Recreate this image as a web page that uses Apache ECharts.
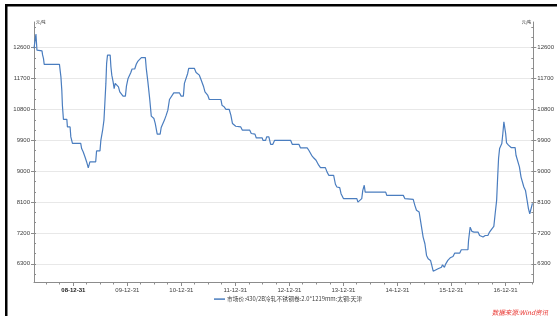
<!DOCTYPE html>
<html>
<head>
<meta charset="utf-8">
<script src="https://cdn.jsdelivr.net/npm/echarts@6/dist/echarts.min.js"></script>
<style>
  html, body { margin: 0; padding: 0; background: #fff; }
  #chart { width: 557px; height: 316px; }
</style>
</head>
<body>
<div id="chart"></div>
<script>
const seriesName = '市场价:430/2B冷轧不锈钢卷:2.0*1219mm:太钢:天津';
const unitName = '元/吨';
const sourceText = '数据来源:Wind资讯';

// 价格走势 (读图估算)
const priceDates = [
  '2008-04-09','2008-04-22','2008-04-29','2008-06-02','2008-06-06','2008-06-12','2008-06-17','2008-09-28',
  '2008-10-08','2008-10-14','2008-10-18','2008-10-25','2008-11-17','2008-11-21','2008-12-09','2008-12-14',
  '2008-12-25','2009-02-19','2009-02-25','2009-03-08','2009-03-20','2009-03-31','2009-04-11','2009-04-22',
  '2009-05-31','2009-06-06','2009-06-29','2009-07-05','2009-07-17','2009-07-26','2009-08-01','2009-08-08',
  '2009-08-13','2009-08-19','2009-08-30','2009-09-06','2009-09-11','2009-09-17','2009-09-26','2009-10-03',
  '2009-10-10','2009-10-23','2009-11-01','2009-11-10','2009-11-22','2009-12-02','2009-12-18','2009-12-25',
  '2010-01-05','2010-01-23','2010-02-01','2010-02-19','2010-03-02','2010-03-13','2010-04-05','2010-05-02',
  '2010-05-08','2010-05-19','2010-05-31','2010-06-11','2010-06-29','2010-07-08','2010-07-21','2010-08-10',
  '2010-08-17','2010-08-28','2010-09-08','2010-09-20','2010-10-01','2010-10-12','2010-10-23','2010-11-10',
  '2010-12-18','2010-12-30','2011-01-14','2011-01-21','2011-02-01','2011-02-12','2011-02-19','2011-03-29',
  '2011-04-10','2011-04-20','2011-05-02','2011-05-13','2011-05-31','2011-06-09','2011-06-27','2011-07-08',
  '2011-09-25','2011-10-02','2011-10-17','2011-10-29','2011-11-20','2011-12-01','2011-12-12','2012-01-03',
  '2012-02-06','2012-02-17','2012-04-07','2012-04-17','2012-05-12','2012-05-21','2012-06-30','2012-07-05',
  '2012-07-23','2012-07-30','2012-08-14','2012-08-26','2012-09-10','2012-09-22','2013-01-08','2013-01-19',
  '2013-03-05','2013-03-16','2013-04-30','2013-05-11','2013-05-30','2013-06-14','2013-06-29','2013-07-17',
  '2013-07-29','2013-08-31','2013-09-11','2013-09-23','2013-10-26','2013-11-07','2013-11-17','2013-12-06',
  '2013-12-15','2014-01-01','2014-04-01','2014-04-08','2014-04-19','2014-05-04','2014-05-11','2014-05-21',
  '2014-05-27','2014-10-13','2014-10-20','2015-02-09','2015-02-20','2015-04-17','2015-04-28','2015-05-09',
  '2015-05-27','2015-06-05','2015-06-23','2015-07-05','2015-07-16','2015-07-27','2015-08-12','2015-08-21',
  '2015-08-30','2015-09-10','2015-10-02','2015-10-25','2015-11-01','2015-11-14','2015-11-23','2015-12-07',
  '2015-12-23','2016-01-11','2016-01-22','2016-02-25','2016-03-07','2016-04-21','2016-04-25','2016-05-06',
  '2016-05-18','2016-06-01','2016-06-28','2016-07-09','2016-08-01','2016-08-16','2016-09-03','2016-09-14',
  '2016-09-30','2016-10-13','2016-10-22','2016-11-01','2016-11-07','2016-11-14','2016-11-21','2016-11-27',
  '2016-12-06','2016-12-13','2016-12-20','2016-12-25','2017-01-01','2017-01-07','2017-01-20','2017-02-07',
  '2017-03-06','2017-03-12','2017-03-24','2017-04-04','2017-04-15','2017-04-27','2017-05-04','2017-05-15',
  '2017-05-26','2017-06-04','2017-06-13','2017-06-22','2017-07-01'
];
const priceValues = [
  12580,13000,12530,12510,12390,12290,12115,12115,
  11750,11365,10925,10510,10510,10290,10290,10000,
  9810,9810,9660,9560,9415,9270,9095,9270,
  9270,9590,9590,9900,10195,10490,10975,11560,
  12145,12385,12415,12385,12045,11800,11605,11410,
  11560,11560,11460,11315,11270,11190,11190,11480,
  11705,11870,11980,11980,12125,12210,12310,12310,
  12000,11605,11120,10605,10535,10390,10080,10080,
  10275,10300,10490,10635,10780,11090,11090,11285,
  11285,11190,11190,11560,11590,11850,12000,12000,
  11880,11880,11800,11675,11460,11315,11220,11090,
  11090,10925,10875,10800,10800,10635,10390,10310,
  10290,10195,10195,10100,10080,9970,9970,9900,
  9900,10000,10000,9785,9785,9900,9900,9785,
  9785,9680,9680,9610,9465,9385,9320,9175,
  9105,9105,8980,8880,8880,8620,8540,8520,
  8345,8200,8200,8100,8150,8200,8440,8590,
  8390,8390,8295,8295,8200,8180,8005,7860,
  7810,7565,7080,6885,6545,6450,6400,6250,
  6085,6125,6155,6200,6270,6200,6300,6400,
  6475,6515,6610,6610,6710,6710,6980,7370,
  7245,7225,7225,7125,7080,7125,7125,7225,
  7320,7390,7760,8150,8735,9370,9660,9630,
  9805,10100,10440,10390,10100,9825,9760,9690,
  9690,9465,9465,9125,8830,8800,8540,8440,
  8150,7910,7760,7715,8060
];

const xMin = '2008-04-09';
const xMax = '2017-07-07';
const yearTickDates = ['2008-12-31','2009-12-31','2010-12-31','2011-12-31','2012-12-31','2013-12-31','2014-12-31','2015-12-31','2016-12-31'];
const yearTickLabels = ['08-12-31','09-12-31','10-12-31','11-12-31','12-12-31','13-12-31','14-12-31','15-12-31','16-12-31'];
const yTickValues = [6300, 7200, 8100, 9000, 9900, 10800, 11700, 12600];
const yMin = 5770;
const yMax = 13350;

const toTime = s => echarts.time.parse(s).getTime();
const yearTickTimes = yearTickDates.map(toTime);
const xMinTime = toTime(xMin);
const xMaxTime = toTime(xMax);

// 季度小刻度
const quarterTimes = [];
for (let y = 2008; y <= 2017; y++) {
  ['03-31', '06-30', '09-30', '12-31'].forEach(md => {
    const t = toTime(y + '-' + md);
    if (t > xMinTime && t < xMaxTime) quarterTimes.push(t);
  });
}
// 300 一格的小刻度
const yMinorValues = [];
for (let v = 6000; v <= 13200; v += 300) yMinorValues.push(v);

const axisColor = '#8c8c8c';
const labelColor = '#404040';
const lineColor = '#4a7dbf';
const baseFont = 'Liberation Sans';

const chart = echarts.init(document.getElementById('chart'));

const hiddenAxisParts = {
  axisLine: { show: false },
  axisLabel: { show: false },
  splitLine: { show: false },
};

const yLabel = { customValues: yTickValues, margin: 4, fontSize: 6, color: labelColor, fontFamily: baseFont, formatter: v => String(v) };

const option = {
  animation: false,
  backgroundColor: '#fff',
  grid: { left: 34, right: 22, top: 22, bottom: 34 },
  legend: {
    left: 209,
    bottom: 9,
    itemWidth: 11,
    itemHeight: 1.5,
    icon: 'rect',
    textStyle: { fontSize: 5.8, color: '#404040', fontFamily: 'Noto Sans CJK SC', padding: [0, 0, 0, -3] },
    data: [seriesName],
  },
  xAxis: [
    {
      type: 'value',
      min: xMinTime,
      max: xMaxTime,
      axisLine: { lineStyle: { color: axisColor, width: 1 } },
      axisTick: { length: 4, lineStyle: { color: axisColor }, customValues: yearTickTimes },
      axisLabel: {
        customValues: yearTickTimes,
        margin: 5,
        fontSize: 6,
        color: labelColor,
        fontFamily: baseFont,
        formatter: (val) => {
          let i = -1;
          yearTickTimes.forEach((t, k) => { if (Math.abs(t - val) < 1000) i = k; });
          const txt = i >= 0 ? yearTickLabels[i] : '';
          return i === 0 ? '{b|' + txt + '}' : txt;
        },
        rich: { b: { fontWeight: 'bold', fontSize: 6, color: '#202020', fontFamily: baseFont } },
      },
      splitLine: { show: false },
    },
    {
      type: 'value',
      min: xMinTime,
      max: xMaxTime,
      position: 'bottom',
      ...hiddenAxisParts,
      axisTick: { length: 2.5, lineStyle: { color: axisColor }, customValues: quarterTimes },
    },
  ],
  yAxis: [
    {
      type: 'value',
      position: 'left',
      min: yMin,
      max: yMax,
      name: unitName,
      nameLocation: 'end',
      nameGap: 0,
      nameTextStyle: { fontSize: 4, color: '#202020', align: 'left', verticalAlign: 'middle', padding: [0, 0, 0, 2], fontFamily: 'Noto Sans CJK SC' },
      axisLine: { show: true, lineStyle: { color: axisColor } },
      axisTick: { length: 3, lineStyle: { color: axisColor }, customValues: yTickValues },
      axisLabel: yLabel,
      splitLine: { show: true, lineStyle: { color: '#e8e8e8', width: 1 } },
    },
    {
      type: 'value',
      position: 'left',
      min: yMin,
      max: yMax,
      ...hiddenAxisParts,
      axisTick: { inside: true, length: 2, lineStyle: { color: axisColor }, customValues: yMinorValues },
    },
    {
      type: 'value',
      position: 'right',
      min: yMin,
      max: yMax,
      name: unitName,
      nameLocation: 'end',
      nameGap: 0,
      nameTextStyle: { fontSize: 4, color: '#202020', align: 'right', verticalAlign: 'middle', padding: [0, 2, 0, 0], fontFamily: 'Noto Sans CJK SC' },
      axisLine: { show: true, lineStyle: { color: axisColor } },
      axisTick: { length: 3, lineStyle: { color: axisColor }, customValues: yTickValues },
      axisLabel: yLabel,
      splitLine: { show: false },
    },
    {
      type: 'value',
      position: 'right',
      min: yMin,
      max: yMax,
      ...hiddenAxisParts,
      axisTick: { inside: true, length: 2, lineStyle: { color: axisColor }, customValues: yMinorValues },
    },
  ],
  graphic: [
    { type: 'rect', shape: { x: 5, y: 4, width: 552, height: 2.5 }, style: { fill: '#000' } },
    { type: 'rect', shape: { x: 5, y: 4, width: 2.5, height: 312 }, style: { fill: '#000' } },
    {
      type: 'text',
      right: 9,
      top: 309,
      style: { text: sourceText, fill: '#e8322d', font: 'italic 6.5px "Noto Sans CJK SC"' },
    },
  ],
  series: [
    {
      name: seriesName,
      type: 'line',
      xAxisIndex: 0,
      yAxisIndex: 0,
      data: priceDates.map((d, i) => [toTime(d), priceValues[i]]),
      showSymbol: false,
      symbol: 'none',
      lineStyle: { color: lineColor, width: 1.2 },
      itemStyle: { color: lineColor },
    },
  ],
};

chart.setOption(option);
</script>
</body>
</html>
